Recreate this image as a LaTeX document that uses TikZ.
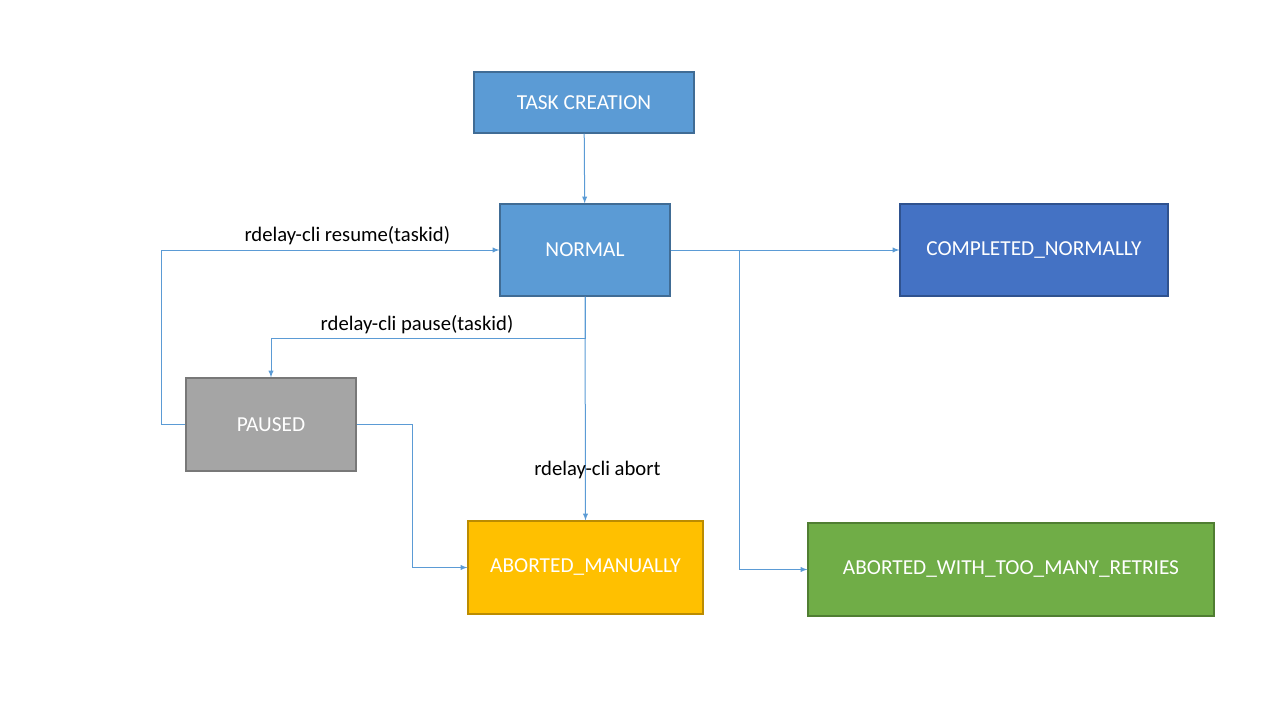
\documentclass[tikz,border=0pt]{standalone}
\usepackage{fontspec}
\setmainfont{Carlito}
\usepackage{tikz}
\usetikzlibrary{arrows, positioning, calc}
\definecolor{linkblue}{HTML}{5B9BD5}
\tikzset{
    statebox/.style = {draw, line width=0.9pt, inner sep=0pt, text centered,
        text=white, font=\fontsize{16}{19}\selectfont},
    normalbox/.style = {statebox, fill=linkblue, draw=linkblue!70!black},
    donebox/.style = {statebox, fill={rgb,255:red,68;green,114;blue,196}, draw={rgb,255:red,47;green,82;blue,143}},
    pausebox/.style = {statebox, fill={rgb,255:red,165;green,165;blue,165}, draw={rgb,255:red,120;green,120;blue,120}},
    manualbox/.style = {statebox, fill={rgb,255:red,255;green,192;blue,0}, draw={rgb,255:red,188;green,140;blue,0}},
    retrybox/.style = {statebox, fill={rgb,255:red,112;green,173;blue,71}, draw={rgb,255:red,80;green,126;blue,50}},
    cmd/.style = {font=\fontsize{15.5}{18}\selectfont, text=black},
}
\begin{document}
\begin{tikzpicture}[x=0.75pt, y=-0.75pt, ->, >=latex, linkblue, line width=0.75pt]
            \useasboundingbox (0,0) rectangle (1280,720);
            \node (create) [normalbox, minimum width=165pt, minimum height=45.75pt] at (584,102.5) {TASK CREATION};
            \node (normal) [normalbox, minimum width=127.5pt, minimum height=69pt] at (585,250) {NORMAL};
            \node (done) [donebox, minimum width=201pt, minimum height=69pt] at (1034,250) {COMPLETED\_NORMALLY};
            \node (paused) [pausebox, minimum width=127.5pt, minimum height=69.75pt] at (271,424.5) {PAUSED};
            \node (manual) [manualbox, minimum width=176.25pt, minimum height=69.75pt] at (585.5,567.5) {ABORTED\_MANUALLY};
            \node (retries) [retrybox, minimum width=304.5pt, minimum height=69.75pt] at (1011,569.5) {ABORTED\_WITH\_TOO\_MANY\_RETRIES};
            \coordinate (fork) at (739,250);
            \draw (create) -- (normal);
            \draw (paused.west) -- ++(-24,0) |- (normal.west)
                node [cmd, pos=0.775, above=0pt] {rdelay-cli resume(taskid)};
            \draw (normal.south) -- ++(0,42) -| (paused.north)
                node [cmd, pos=0.2675, above=0pt] {rdelay-cli pause(taskid)};
            \draw (normal.south) -- (manual.north)
                node [cmd, pos=0.775, xshift=9pt] {rdelay-cli abort};
            \draw (normal.east) -- (done.west);
            \draw (fork) |- (retries.west);
            \draw (paused.east) -- ++(56,0) |- (manual.west);
\end{tikzpicture}
\end{document}
